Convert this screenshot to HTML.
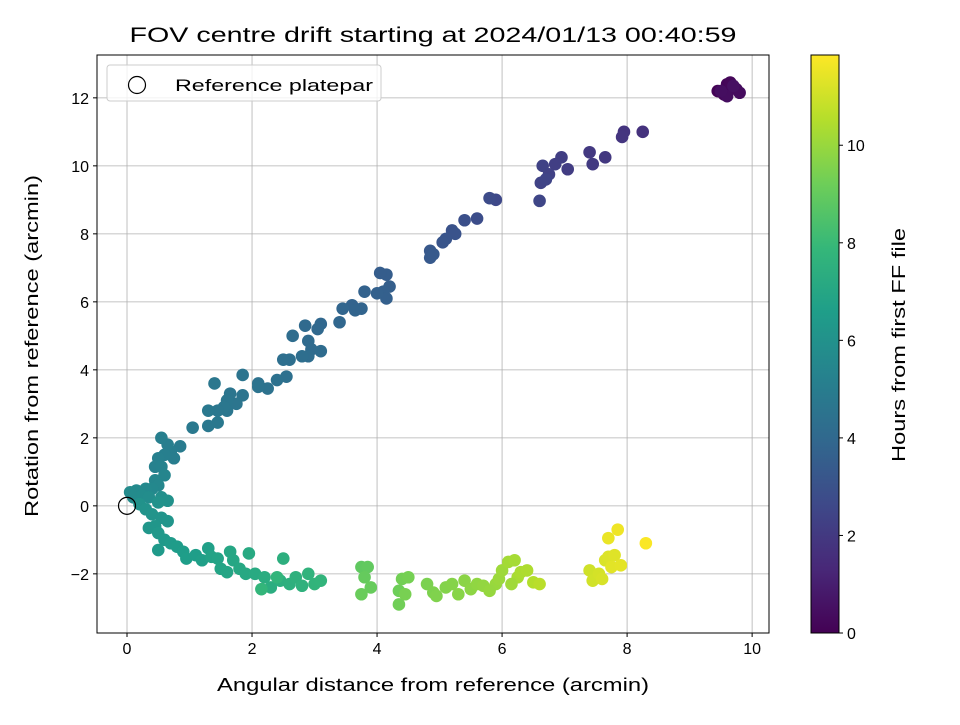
<!DOCTYPE html>
<html><head><meta charset="utf-8"><style>
body{margin:0;background:#fff;font-family:"Liberation Sans","DejaVu Sans",sans-serif}
svg text{font-family:"Liberation Sans","DejaVu Sans",sans-serif;fill:#000}
</style></head><body>
<svg id="chart" width="960" height="720" xmlns="http://www.w3.org/2000/svg"></svg>
<script>
const xs=[9.45,9.55,9.6,9.65,9.7,9.75,9.8,9.6,9.5,9.7,
8.25,7.95,7.92,7.65,7.4,7.45,7.05,6.95,6.85,6.75,6.65,6.62,6.7,6.6,5.9,5.8,5.6,5.4,5.2,5.25,5.1,5.05,4.85,4.85,4.9,
4.15,4.05,4.2,4.1,4.15,4.0,3.8,3.6,3.65,3.75,
3.45,3.4,3.1,3.05,2.85,2.9,2.95,3.1,2.9,2.65,
2.8,2.6,2.5,2.55,2.4,2.25,2.1,2.1,1.85,1.85,
1.75,1.65,1.6,1.6,1.55,1.4,1.45,1.3,1.3,1.45,
1.05,0.85,0.7,0.75,0.65,0.55,0.6,0.5,0.45,0.55,
0.6,0.45,0.5,0.4,0.3,0.15,0.05,0.1,0.25,0.35,
0.55,0.65,0.5,0.2,0.3,0.4,0.55,0.65,0.45,0.35,
0.5,0.6,0.5,0.7,0.8,0.9,0.95,1.1,1.2,1.3,
1.35,1.45,1.5,1.6,1.7,1.65,1.8,1.9,1.95,2.05,
2.2,2.3,2.45,2.5,2.6,2.7,2.8,2.9,3.0,3.1,2.4,2.15,
3.75,3.85,3.8,3.9,3.75,4.35,4.35,4.4,4.5,4.45,4.8,4.9,4.95,5.1,5.2,5.3,5.4,5.5,5.6,5.7,5.9,5.95,6.0,6.1,6.2,6.25,6.3,6.4,6.5,6.6,6.15,5.8,
7.4,7.45,7.55,7.6,7.65,7.7,7.8,7.75,7.9,7.7,7.85,8.3];
const ys=[12.2,12.1,12.4,12.45,12.3,12.25,12.15,12.05,12.2,12.35,
11.0,11.0,10.85,10.25,10.4,10.05,9.9,10.25,10.05,9.75,10.0,9.5,9.6,8.97,9.0,9.05,8.45,8.4,8.1,8.0,7.85,7.75,7.5,7.3,7.4,
6.8,6.85,6.45,6.3,6.1,6.25,6.3,5.9,5.75,5.8,
5.8,5.4,5.35,5.2,5.3,4.85,4.6,4.55,4.4,5.0,
4.4,4.3,4.3,3.8,3.7,3.45,3.6,3.5,3.85,3.25,
3.0,3.3,3.1,2.8,2.9,3.6,2.8,2.8,2.35,2.45,
2.3,1.75,1.6,1.4,1.8,2.0,1.5,1.4,1.15,1.15,
0.9,0.75,0.6,0.5,0.5,0.45,0.4,0.25,0.3,0.25,
0.25,0.15,0.1,0.05,-0.1,-0.25,-0.35,-0.45,-0.6,-0.65,
-0.8,-1.0,-1.3,-1.1,-1.2,-1.35,-1.55,-1.45,-1.6,-1.25,
-1.5,-1.55,-1.85,-1.95,-1.6,-1.35,-1.85,-2.0,-1.4,-2.0,
-2.1,-2.4,-2.2,-1.55,-2.3,-2.1,-2.35,-2.0,-2.3,-2.2,-2.1,-2.45,
-1.8,-1.8,-2.1,-2.4,-2.6,-2.5,-2.9,-2.15,-2.1,-2.6,-2.3,-2.55,-2.65,-2.4,-2.3,-2.6,-2.2,-2.45,-2.3,-2.35,-2.3,-2.15,-1.9,-1.65,-1.6,-2.1,-1.95,-1.9,-2.25,-2.3,-2.3,-2.5,
-1.9,-2.2,-2.0,-2.15,-1.6,-1.5,-1.45,-1.8,-1.75,-0.95,-0.7,-1.1];
const hours=[0.05,0.1,0.15,0.2,0.25,0.3,0.35,0.4,0.45,0.5,
1.7,1.8,1.85,1.95,2.0,2.05,2.15,2.2,2.25,2.3,2.35,2.4,2.45,2.5,2.6,2.7,2.8,2.9,3.0,3.05,3.1,3.15,3.25,3.3,3.35,
3.5,3.5,3.55,3.6,3.6,3.65,3.7,3.75,3.8,3.8,
3.85,3.9,3.95,4.0,4.05,4.1,4.1,4.15,4.2,4.2,
4.25,4.3,4.3,4.35,4.4,4.45,4.45,4.5,4.55,4.55,
4.6,4.6,4.65,4.65,4.7,4.7,4.7,4.75,4.75,4.75,
4.8,4.9,5.0,5.0,5.05,5.1,5.1,5.15,5.2,5.25,
5.4,5.45,5.5,5.55,5.6,5.65,5.7,5.7,5.75,5.8,
5.9,5.95,6.0,6.0,6.05,6.1,6.1,6.15,6.2,6.2,
6.3,6.35,6.4,6.45,6.5,6.55,6.6,6.6,6.65,6.7,
6.8,6.85,6.9,6.95,7.0,7.0,7.05,7.1,7.15,7.2,
7.3,7.35,7.4,7.45,7.5,7.55,7.6,7.65,7.7,7.75,7.75,7.8,
8.9,8.95,9.0,9.05,9.1,9.2,9.25,9.3,9.35,9.4,9.45,9.5,9.55,9.6,9.65,9.7,9.75,9.8,9.85,9.9,10.0,10.05,10.1,10.2,10.25,10.3,10.35,10.4,10.5,10.6,10.15,9.95,
11.0,11.05,11.1,11.15,11.2,11.25,11.3,11.35,11.4,11.5,11.6,11.8];
const xTicks=[0,2,4,6,8,10];
const yTicks=[-2,0,2,4,6,8,10,12];
const cTicks=[0,2,4,6,8,10];
const hMax=11.85;

const NS="http://www.w3.org/2000/svg";
const svg=document.getElementById('chart');
const L=97,R=769,T=55,B=633;
const xMin=-0.48,xMax=10.27,yMin=-3.74,yMax=13.26;
const sx=v=>L+(v-xMin)/(xMax-xMin)*(R-L);
const sy=v=>B-(v-yMin)/(yMax-yMin)*(B-T);
const CB_L=811,CB_R=839;
const sc=v=>B-v/hMax*(B-T);
const vir=[[68,1,84],[72,40,120],[62,73,137],[49,104,142],[38,130,142],[31,158,137],[53,183,121],[110,206,88],[181,222,43],[253,231,37]];
function cmap(t){t=Math.max(0,Math.min(1,t));const p=t*(vir.length-1),i=Math.min(Math.floor(p),vir.length-2),f=p-i;
const c=vir[i].map((a,k)=>Math.round(a+(vir[i+1][k]-a)*f));return `rgb(${c[0]},${c[1]},${c[2]})`;}
function mk(tag,attrs,name){const e=document.createElementNS(NS,tag);for(const k in attrs)e.setAttribute(k,attrs[k]);


svg.appendChild(e);return e;}
function txt(x,y,s,size,anchor,name,extra){const e=mk('text',Object.assign({x:x,y:y,'font-size':size+'px','text-anchor':anchor},extra||{}),name);e.textContent=s;return e;}

xTicks.forEach(v=>{mk('line',{x1:sx(v),x2:sx(v),y1:T,y2:B,stroke:'#b0b0b0','stroke-width':0.8},'x-gridline');});
yTicks.forEach(v=>{mk('line',{x1:L,x2:R,y1:sy(v),y2:sy(v),stroke:'#b0b0b0','stroke-width':0.8},'y-gridline');});
for(let i=0;i<xs.length;i++){
 mk('circle',{cx:sx(xs[i]),cy:sy(ys[i]),r:6.3,fill:cmap(hours[i]/hMax)},'data-point');
}
mk('circle',{cx:sx(0),cy:sy(0),r:8.5,fill:'none',stroke:'#000','stroke-width':1.2},'reference-marker');
mk('rect',{x:L,y:T,width:R-L,height:B-T,fill:'none',stroke:'#000','stroke-width':1},'plot-frame');
xTicks.forEach(v=>{mk('line',{x1:sx(v),x2:sx(v),y1:B,y2:B+4,stroke:'#000'},'x-tick');txt(sx(v),B+21,String(v),16,'middle','x-tick-label');});
yTicks.forEach(v=>{mk('line',{x1:L-4,x2:L,y1:sy(v),y2:sy(v),stroke:'#000'},'y-tick');txt(L-8,sy(v)+6,v<0?'\u2212'+(-v):String(v),16,'end','y-tick-label');});
txt(433,691,'Angular distance from reference (arcmin)',18,'middle','x-axis-title',{textLength:432,lengthAdjust:'spacingAndGlyphs'});
txt(38,346,'Rotation from reference (arcmin)',18,'middle','y-axis-title',{transform:'rotate(-90 38 346)',textLength:342,lengthAdjust:'spacingAndGlyphs'});
txt(433,42,'FOV centre drift starting at 2024/01/13 00:40:59',21,'middle','chart-title',{textLength:607,lengthAdjust:'spacingAndGlyphs'});
mk('rect',{x:107,y:65,width:274,height:36,rx:3,fill:'#fff','fill-opacity':0.8,stroke:'#ccc'},'legend-box');
mk('circle',{cx:137,cy:85,r:8.5,fill:'none',stroke:'#000','stroke-width':1.2},'legend-marker');
txt(175,91,'Reference platepar',17,'start','legend-label',{textLength:198,lengthAdjust:'spacingAndGlyphs'});
const defs=mk('defs',{},'colorbar-defs');
const g=document.createElementNS(NS,'linearGradient');g.setAttribute('id','vg');g.setAttribute('x1','0');g.setAttribute('y1','1');g.setAttribute('x2','0');g.setAttribute('y2','0');
vir.forEach((c,i)=>{const s=document.createElementNS(NS,'stop');s.setAttribute('offset',i/(vir.length-1));s.setAttribute('stop-color',`rgb(${c})`);g.appendChild(s);});
defs.appendChild(g);
mk('rect',{x:CB_L,y:T,width:CB_R-CB_L,height:B-T,fill:'url(#vg)',stroke:'#000','stroke-width':1},'colorbar');
cTicks.forEach(v=>{mk('line',{x1:CB_R,x2:CB_R+4,y1:sc(v),y2:sc(v),stroke:'#000'},'colorbar-tick');txt(CB_R+8,sc(v)+6,String(v),16,'start','colorbar-tick-label');});
txt(905,345,'Hours from first FF file',18,'middle','colorbar-title',{transform:'rotate(-90 905 345)',textLength:234,lengthAdjust:'spacingAndGlyphs'});
</script>
</body></html>
